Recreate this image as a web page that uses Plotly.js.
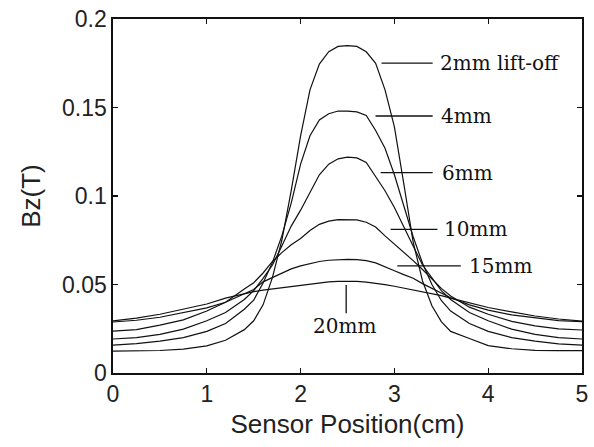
<!DOCTYPE html>
<html>
<head>
<meta charset="utf-8">
<script src="https://cdn.plot.ly/plotly-3.0.1.min.js"></script>
<style>html,body{margin:0;padding:0;background:#fff;}#chart{width:594px;height:447px;}</style>
</head>
<body>
<div id="chart"></div>
<script>
var xPos = [0, 0.25, 0.5, 0.75, 1.0, 1.2, 1.4, 1.5, 1.6, 1.7, 1.8, 1.9, 2.0, 2.1, 2.2, 2.3, 2.4, 2.5,
            2.6, 2.7, 2.8, 2.9, 3.0, 3.1, 3.2, 3.3, 3.4, 3.5, 3.6, 3.8, 4.0, 4.25, 4.5, 4.75, 5.0];

var bz2mm  = [0.0124, 0.0125, 0.0127, 0.0135, 0.0153, 0.0185, 0.0245, 0.0295, 0.0385, 0.0540, 0.0750, 0.1030, 0.1340, 0.1600, 0.1745, 0.1815, 0.1845, 0.1850,
              0.1845, 0.1815, 0.1750, 0.1600, 0.1390, 0.1070, 0.0740, 0.0520, 0.0380, 0.0290, 0.0235, 0.0195, 0.0155, 0.0137, 0.0128, 0.0126, 0.0126];
var bz4mm  = [0.0158, 0.0166, 0.0180, 0.0200, 0.0235, 0.0280, 0.0360, 0.0412, 0.0508, 0.0625, 0.0775, 0.0960, 0.1180, 0.1340, 0.1430, 0.1465, 0.1480, 0.1480,
              0.1475, 0.1455, 0.1370, 0.1270, 0.1120, 0.0950, 0.0770, 0.0620, 0.0500, 0.0410, 0.0350, 0.0280, 0.0235, 0.0200, 0.0180, 0.0165, 0.0158];
var bz6mm  = [0.0192, 0.0200, 0.0218, 0.0248, 0.0295, 0.0342, 0.0415, 0.0465, 0.0535, 0.0610, 0.0718, 0.0830, 0.0920, 0.1020, 0.1120, 0.1180, 0.1210, 0.1220,
              0.1215, 0.1190, 0.1110, 0.1030, 0.0935, 0.0830, 0.0718, 0.0610, 0.0535, 0.0465, 0.0415, 0.0342, 0.0295, 0.0248, 0.0218, 0.0200, 0.0192];
var bz10mm = [0.0237, 0.0245, 0.0270, 0.0300, 0.0350, 0.0400, 0.0475, 0.0510, 0.0565, 0.0630, 0.0680, 0.0725, 0.0760, 0.0805, 0.0840, 0.0858, 0.0867, 0.0868,
              0.0865, 0.0852, 0.0825, 0.0775, 0.0730, 0.0685, 0.0635, 0.0585, 0.0530, 0.0478, 0.0435, 0.0372, 0.0332, 0.0292, 0.0266, 0.0249, 0.0243];
var bz15mm = [0.0288, 0.0298, 0.0315, 0.0340, 0.0368, 0.0400, 0.0445, 0.0472, 0.0515, 0.0540, 0.0565, 0.0588, 0.0605, 0.0619, 0.0630, 0.0637, 0.0641, 0.0642,
              0.0641, 0.0635, 0.0622, 0.0598, 0.0578, 0.0556, 0.0535, 0.0505, 0.0478, 0.0450, 0.0425, 0.0385, 0.0355, 0.0328, 0.0310, 0.0296, 0.0290];
var bz20mm = [0.0294, 0.0310, 0.0332, 0.0360, 0.0390, 0.0423, 0.0450, 0.0460, 0.0468, 0.0475, 0.0482, 0.0490, 0.0497, 0.0505, 0.0510, 0.0515, 0.0518, 0.0518,
              0.0518, 0.0513, 0.0507, 0.0499, 0.0490, 0.0480, 0.0470, 0.0460, 0.0450, 0.0437, 0.0423, 0.0395, 0.0370, 0.0345, 0.0322, 0.0305, 0.0293];

var seriesNames = ['2mm lift-off', '4mm', '6mm', '10mm', '15mm', '20mm'];
var seriesData = [bz2mm, bz4mm, bz6mm, bz10mm, bz15mm, bz20mm];

var xTickVals = [0, 1, 2, 3, 4, 5];
var xTickText = ['0', '1', '2', '3', '4', '5'];
var yTickVals = [0, 0.05, 0.1, 0.15, 0.2];
var yTickText = ['0', '0.05', '0.1', '0.15', '0.2'];

var traces = seriesData.map(function (ys, i) {
  return {x: xPos, y: ys, type: 'scatter', mode: 'lines', name: seriesNames[i],
          line: {color: '#111', width: 1.2}, hoverinfo: 'skip'};
});

var labelFont = {family: 'DejaVu Serif, Liberation Serif, serif', size: 20, color: '#111'};
var leaders = [
  {x0: 2.863, x1: 3.408, y0: 0.1751, y1: 0.1751},
  {x0: 2.799, x1: 3.408, y0: 0.1452, y1: 0.1452},
  {x0: 2.853, x1: 3.408, y0: 0.1132, y1: 0.1132},
  {x0: 2.960, x1: 3.459, y0: 0.0812, y1: 0.0812},
  {x0: 3.031, x1: 3.708, y0: 0.0605, y1: 0.0605},
  {x0: 2.486, x1: 2.486, y0: 0.0497, y1: 0.0337}
];
var shapes = leaders.map(function (s) {
  return {type: 'line', xref: 'x', yref: 'y', x0: s.x0, x1: s.x1, y0: s.y0, y1: s.y1,
          line: {color: '#111', width: 1.3}};
});
var labelPos = [
  {x: 3.46, y: 0.1751, xa: 'left'},
  {x: 3.48, y: 0.1452, xa: 'left'},
  {x: 3.49, y: 0.1132, xa: 'left'},
  {x: 3.51, y: 0.0812, xa: 'left'},
  {x: 3.77, y: 0.0605, xa: 'left'},
  {x: 2.47, y: 0.0268, xa: 'center'}
];
var annotations = labelPos.map(function (p, i) {
  return {x: p.x, y: p.y, xref: 'x', yref: 'y', text: seriesNames[i], showarrow: false,
          xanchor: p.xa, yanchor: 'middle', font: labelFont};
});

var axisFont = {family: 'Liberation Sans, Arial, sans-serif', size: 23, color: '#222'};
var titleFont = {family: 'Liberation Sans, Arial, sans-serif', size: 26, color: '#222'};
var layout = {
  width: 594, height: 447,
  margin: {l: 113, r: 12, t: 19, b: 74, pad: 0},
  paper_bgcolor: '#fff', plot_bgcolor: '#fff',
  showlegend: false,
  xaxis: {
    range: [0, 5], tickvals: xTickVals, ticktext: xTickText,
    ticks: 'inside', ticklen: 5, tickcolor: '#111', tickwidth: 1.3,
    showline: true, linecolor: '#111', linewidth: 1.6, mirror: 'ticks',
    showgrid: false, zeroline: false, tickfont: axisFont,
    title: {text: 'Sensor Position(cm)', font: titleFont, standoff: 8}
  },
  yaxis: {
    range: [0, 0.2], tickvals: yTickVals, ticktext: yTickText,
    ticks: 'inside', ticklen: 5, tickcolor: '#111', tickwidth: 1.3,
    showline: true, linecolor: '#111', linewidth: 1.6, mirror: 'ticks',
    showgrid: false, zeroline: false, tickfont: axisFont,
    title: {text: 'Bz(T)', font: titleFont, standoff: 14}
  },
  shapes: shapes,
  annotations: annotations
};

Plotly.newPlot('chart', traces, layout, {displayModeBar: false, staticPlot: true});
</script>
</body>
</html>
